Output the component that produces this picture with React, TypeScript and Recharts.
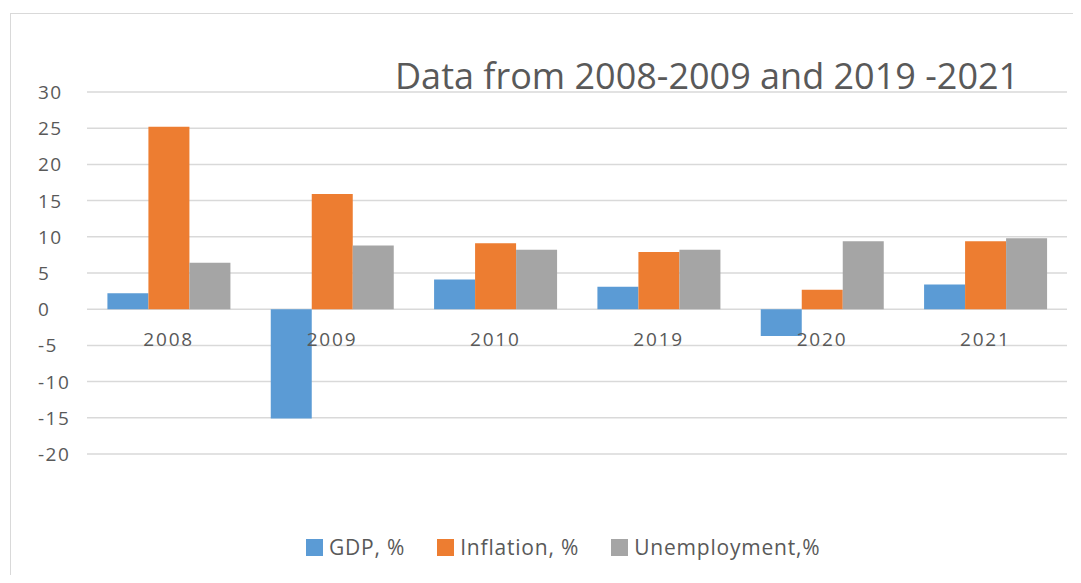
import { BarChart, Bar, XAxis, YAxis, CartesianGrid, Legend } from "recharts"

const years = ["2008", "2009", "2010", "2019", "2020", "2021"]
const gdp = [2.2, -15.1, 4.1, 3.1, -3.7, 3.4]
const inflation = [25.2, 15.9, 9.1, 7.9, 2.7, 9.4]
const unemployment = [6.4, 8.8, 8.2, 8.2, 9.4, 9.8]
const yTicks = [30, 25, 20, 15, 10, 5, 0, -5, -10, -15, -20]

const data = years.map((y, i) => ({
  year: y,
  gdp: gdp[i],
  inflation: inflation[i],
  unemployment: unemployment[i],
}))

const W = 1081
const H = 583
const TOP = 92
const PLOT_BOTTOM = 454
const LEGEND_H = 24
const FONT = "'Open Sans', 'Noto Sans', sans-serif"
// y pixel of the zero line (domain -20..30), x labels sit just under it
const ZERO_Y = TOP + ((PLOT_BOTTOM - TOP) * 30) / 50

const YTick = (props: any) => (
  <text
    x={props.x - 49}
    y={props.y}
    dy={7}
    fill="#595959"
    fontSize={19}
    letterSpacing={1.5}
    fontFamily={FONT}
    textAnchor="start"
  >
    {props.payload.value}
  </text>
)

const XTick = (props: any) => (
  <text
    x={props.x}
    y={ZERO_Y + 37}
    fill="#595959"
    fontSize={19}
    letterSpacing={1.8}
    fontFamily={FONT}
    textAnchor="middle"
  >
    {props.payload.value}
  </text>
)

const LegendContent = (props: any) => (
  <div
    style={{
      display: "flex",
      height: LEGEND_H,
      paddingLeft: 306,
      alignItems: "center",
      fontFamily: FONT,
      fontSize: 21,
      letterSpacing: 0.8,
      color: "#595959",
    }}
  >
    {props.payload.map((p: any) => (
      <div key={p.value} style={{ display: "flex", alignItems: "center", marginRight: 32 }}>
        <span style={{ width: 17, height: 17, background: p.color, display: "inline-block", marginRight: 6 }} />
        {p.value}
      </div>
    ))}
  </div>
)

export default function App() {
  return (
    <div style={{ position: "relative", margin: -8, width: W, height: H, background: "#fff", overflow: "hidden" }}>
      <div style={{ position: "absolute", left: 10, top: 13, width: W, height: H, border: "1px solid #d9d9d9" }} />
      <div
        style={{
          position: "absolute",
          left: 395,
          top: 51,
          fontFamily: FONT,
          fontSize: 36,
          color: "#595959",
          whiteSpace: "nowrap",
        }}
      >
        Data from 2008-2009 and 2019 -2021
      </div>
      <div style={{ position: "absolute", left: 0, top: 0 }}>
        <BarChart
          width={W}
          height={H}
          data={data}
          margin={{ top: TOP, right: 14, bottom: H - PLOT_BOTTOM - LEGEND_H - 1, left: 37 }}
          barCategoryGap="12.5%"
          barGap={0}
        >
          <CartesianGrid vertical={false} stroke="#d9d9d9" strokeWidth={1.5} />
          <XAxis dataKey="year" axisLine={false} tickLine={false} tick={<XTick />} height={1} />
          <YAxis
            domain={[-20, 30]}
            ticks={yTicks}
            axisLine={false}
            tickLine={false}
            tickSize={0}
            tickMargin={0}
            width={50}
            tick={<YTick />}
            interval={0}
          />
          <Bar dataKey="gdp" name="GDP, %" fill="#5B9BD5" isAnimationActive={false} />
          <Bar dataKey="inflation" name="Inflation, %" fill="#ED7D31" isAnimationActive={false} />
          <Bar dataKey="unemployment" name="Unemployment,%" fill="#A5A5A5" isAnimationActive={false} />
          <Legend content={<LegendContent />} wrapperStyle={{ top: 535, left: 0, width: W }} />
        </BarChart>
      </div>
    </div>
  )
}
